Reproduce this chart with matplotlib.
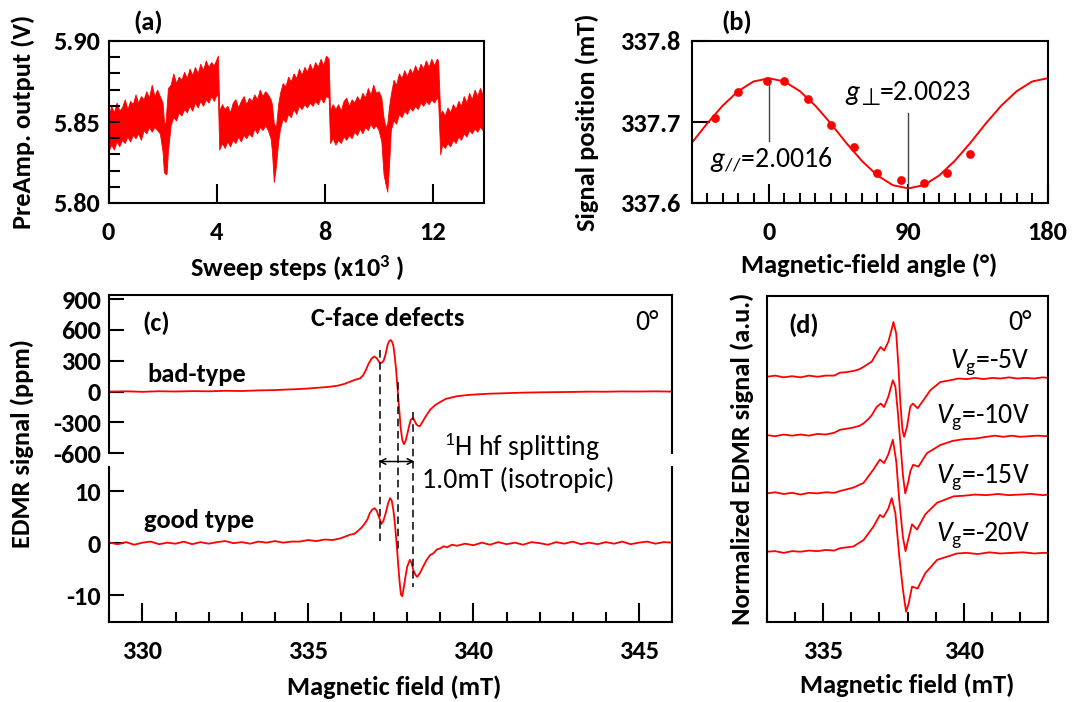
import matplotlib
matplotlib.use("Agg")
import matplotlib.pyplot as plt
import matplotlib.transforms as mtransforms
from matplotlib.lines import Line2D
from matplotlib.patches import FancyArrowPatch
from matplotlib.ticker import MultipleLocator, FormatStrFormatter

plt.rcParams["font.family"] = ["Carlito", "DejaVu Sans"]
plt.rcParams["font.weight"] = "bold"
plt.rcParams["mathtext.fontset"] = "custom"
plt.rcParams["mathtext.rm"] = "Carlito:weight=normal"
plt.rcParams["mathtext.it"] = "Carlito:style=italic:weight=normal"
plt.rcParams["mathtext.bf"] = "Carlito:weight=bold"
plt.rcParams["axes.linewidth"] = 1.5
plt.rcParams["axes.unicode_minus"] = False

# ---- (a) pre-amp output: upper / lower edge of the noisy trace
steps = [0.0, 0.1, 0.2, 0.3, 0.4, 0.5, 0.6, 0.7, 0.8, 0.9, 1.0, 1.1, 1.2, 1.3, 1.4, 1.5, 1.6, 1.7, 1.8, 1.9,
         2.0, 2.05, 2.1, 2.15, 2.2, 2.3, 2.4, 2.5, 2.6, 2.7, 2.8, 2.9, 3.0, 3.1, 3.2, 3.3, 3.4, 3.5, 3.6,
         3.7, 3.8, 3.9, 4.0, 4.05,
         4.1, 4.2, 4.3, 4.4, 4.5, 4.6, 4.7, 4.8, 4.9, 5.0, 5.1, 5.2, 5.3, 5.4, 5.5, 5.6, 5.7, 5.8, 5.9, 6.0,
         6.05, 6.12, 6.2, 6.28, 6.35, 6.45, 6.55, 6.65, 6.75, 6.85, 6.95, 7.05, 7.15, 7.25, 7.35, 7.45,
         7.55, 7.65, 7.75, 7.85, 7.95, 8.05, 8.15,
         8.2, 8.3, 8.4, 8.5, 8.6, 8.7, 8.8, 8.9, 9.0, 9.1, 9.2, 9.3, 9.4, 9.5, 9.6, 9.7, 9.8, 9.9, 10.0, 10.1,
         10.18, 10.25, 10.32, 10.38, 10.45, 10.55, 10.65, 10.75, 10.85, 10.95, 11.05, 11.15, 11.25, 11.35,
         11.45, 11.55, 11.65, 11.75, 11.85, 11.95, 12.05, 12.15, 12.2,
         12.28, 12.35, 12.45, 12.55, 12.65, 12.75, 12.85, 12.95, 13.05, 13.15, 13.25, 13.35, 13.45, 13.55,
         13.65, 13.75, 13.85, 13.9]
preamp_hi = [5.853, 5.860, 5.856, 5.862, 5.857, 5.859, 5.864, 5.858, 5.863, 5.861, 5.867, 5.862, 5.866, 5.864,
             5.869, 5.865, 5.873, 5.866, 5.870, 5.866,
             5.862, 5.851, 5.847, 5.859, 5.871, 5.873, 5.880, 5.874, 5.878, 5.876, 5.881, 5.877, 5.883, 5.879,
             5.884, 5.880, 5.886, 5.882, 5.888, 5.884, 5.887, 5.885, 5.889, 5.891,
             5.857, 5.861, 5.858, 5.860, 5.856, 5.862, 5.864, 5.859, 5.863, 5.866, 5.861, 5.865, 5.863, 5.867,
             5.864, 5.870, 5.866, 5.869, 5.867, 5.864,
             5.861, 5.849, 5.847, 5.861, 5.868, 5.874, 5.872, 5.878, 5.875, 5.880, 5.877, 5.883, 5.879, 5.884,
             5.881, 5.886, 5.882, 5.887, 5.884, 5.889, 5.885, 5.891, 5.889,
             5.857, 5.861, 5.858, 5.861, 5.857, 5.863, 5.865, 5.860, 5.864, 5.862, 5.866, 5.863, 5.868, 5.865,
             5.871, 5.867, 5.873, 5.868, 5.869, 5.865,
             5.853, 5.847, 5.849, 5.859, 5.867, 5.876, 5.873, 5.880, 5.877, 5.882, 5.878, 5.883, 5.880, 5.885,
             5.881, 5.886, 5.883, 5.888, 5.884, 5.889, 5.885, 5.889, 5.888,
             5.855, 5.857, 5.854, 5.859, 5.856, 5.861, 5.858, 5.863, 5.860, 5.866, 5.862, 5.868, 5.864, 5.870,
             5.866, 5.871, 5.867, 5.869]
preamp_lo = [5.832, 5.836, 5.833, 5.838, 5.835, 5.839, 5.837, 5.841, 5.838, 5.842, 5.840, 5.843, 5.839, 5.845,
             5.843, 5.847, 5.844, 5.847, 5.845, 5.843,
             5.832, 5.819, 5.818, 5.818, 5.832, 5.848, 5.853, 5.851, 5.856, 5.854, 5.858, 5.856, 5.860, 5.857,
             5.862, 5.859, 5.863, 5.860, 5.864, 5.862, 5.866, 5.863, 5.867, 5.866,
             5.833, 5.837, 5.834, 5.838, 5.835, 5.839, 5.837, 5.841, 5.838, 5.842, 5.840, 5.843, 5.841, 5.846,
             5.843, 5.847, 5.845, 5.848, 5.845, 5.840,
             5.832, 5.813, 5.823, 5.838, 5.846, 5.852, 5.850, 5.855, 5.853, 5.858, 5.855, 5.860, 5.858, 5.861,
             5.859, 5.862, 5.860, 5.863, 5.861, 5.865, 5.862, 5.866, 5.865,
             5.837, 5.840, 5.836, 5.839, 5.837, 5.841, 5.839, 5.842, 5.840, 5.844, 5.842, 5.846, 5.843, 5.847,
             5.845, 5.849, 5.846, 5.848, 5.845, 5.838,
             5.818, 5.812, 5.807, 5.822, 5.845, 5.851, 5.849, 5.855, 5.853, 5.857, 5.855, 5.859, 5.857, 5.860,
             5.858, 5.862, 5.860, 5.863, 5.861, 5.864, 5.862, 5.865, 5.864,
             5.830, 5.836, 5.834, 5.837, 5.835, 5.839, 5.837, 5.841, 5.839, 5.843, 5.841, 5.845, 5.843, 5.846,
             5.844, 5.847, 5.845, 5.846]

# ---- (b) signal position vs field angle
angle_pts = [-35, -20, -1, 10, 25, 40, 55, 70, 85, 100, 115, 130]
position_pts = [337.705, 337.737, 337.751, 337.751, 337.729, 337.696,
                337.669, 337.637, 337.628, 337.625, 337.637, 337.661]
fit_angle = [-50, -40, -30, -20, -10, 0, 10, 20, 30, 40, 50, 60, 70, 80, 90,
             100, 110, 120, 130, 140, 150, 160, 170, 180]
fit_position = [337.674, 337.698, 337.720, 337.738, 337.750, 337.754, 337.750, 337.738,
                337.720, 337.698, 337.674, 337.652, 337.634, 337.622, 337.618, 337.622,
                337.634, 337.652, 337.674, 337.698, 337.720, 337.738, 337.750, 337.754]

# ---- (c) C-face defects, bad-type (ppm)
bad_field = [329.0, 329.5, 330.0, 330.5, 331.0, 331.5, 332.0, 332.5, 333.0, 333.5, 334.0, 334.5,
             335.0, 335.3, 335.6, 335.9, 336.1, 336.3, 336.45, 336.57, 336.67, 336.75, 336.83,
             336.92, 337.0, 337.08, 337.17, 337.23, 337.29, 337.35, 337.40, 337.45, 337.50,
             337.54, 337.58, 337.62, 337.66, 337.70, 337.73, 337.77, 337.80, 337.85, 337.90,
             337.95, 338.0, 338.06, 338.11, 338.18, 338.23, 338.28, 338.33, 338.38, 338.45,
             338.53, 338.69, 338.85, 339.0, 339.17, 339.5, 339.85, 340.2, 340.5, 341.0, 341.5,
             342.0, 342.5, 343.0, 343.5, 344.0, 344.5, 345.0, 345.5, 346.0]
bad_signal = [0, 3, -2, 4, 1, 5, 3, 8, 6, 12, 15, 22,
              30, 38, 45, 58, 75, 100, 118, 128, 160, 210, 271,
              320, 342, 325, 278, 282, 303, 370, 447, 490, 502,
              485, 447, 350, 223, 60, -64, -220, -351, -470, -511,
              -480, -415, -330, -272, -256, -290, -320, -333, -335, -300,
              -256, -176, -130, -100, -70, -45, -32, -25, -20, -15, -10,
              -7, -5, -3, 0, -1, 2, 1, 3, 0]

# ---- (c) good type (ppm)
good_field = [329.0, 329.25, 329.5, 329.75, 330.0, 330.25, 330.5, 330.75, 331.0, 331.25, 331.5,
              331.75, 332.0, 332.25, 332.5, 332.75, 333.0, 333.25, 333.5, 333.75, 334.0, 334.25,
              334.5, 334.75, 335.0, 335.25, 335.5, 335.75, 335.96, 336.1, 336.26, 336.4, 336.52,
              336.62, 336.72, 336.8, 336.87, 336.95, 337.02, 337.08, 337.14, 337.22, 337.28,
              337.35, 337.42, 337.48, 337.53, 337.58, 337.62, 337.66, 337.70, 337.73, 337.77,
              337.81, 337.85, 337.90, 337.95, 338.0, 338.08, 338.13, 338.18, 338.24, 338.30,
              338.38, 338.48, 338.58, 338.69, 338.8, 338.9, 339.0, 339.1, 339.2, 339.35, 339.5,
              339.75, 340.0, 340.25, 340.5, 340.75, 341.0, 341.25, 341.5, 341.75, 342.0, 342.25,
              342.5, 342.75, 343.0, 343.25, 343.5, 343.75, 344.0, 344.25, 344.5, 344.75, 345.0,
              345.25, 345.5, 345.75, 346.0]
good_signal = [0.1, -0.2, 0.2, -0.3, 0.1, 0.3, -0.2, 0.1, -0.1, 0.3, -0.2,
               0.2, -0.1, 0.2, 0.4, 0.0, 0.2, -0.1, 0.3, 0.1, 0.4, 0.1,
               0.3, 0.3, 0.6, 0.4, 0.7, 0.6, 0.9, 1.2, 1.6, 1.8, 2.4,
               3.0, 3.8, 4.6, 5.8, 6.5, 6.7, 6.2, 5.1, 3.7, 4.3,
               5.8, 7.6, 8.65, 8.2, 6.4, 4.2, 1.3, -1.8, -4.5, -7.5,
               -9.9, -10.2, -8.3, -6.3, -4.5, -3.2, -3.8, -5.1, -6.0, -6.5,
               -5.8, -4.5, -3.3, -2.3, -1.9, -1.2, -1.0, -0.6, -0.8, -0.3, -0.5,
               -0.1, -0.4, 0.1, -0.3, 0.2, -0.2, 0.1, -0.3, 0.2, 0.0, -0.3,
               0.2, -0.1, 0.3, -0.2, 0.1, -0.2, 0.2, -0.1, 0.3, -0.2, 0.1,
               0.3, -0.1, 0.2, 0.1]

# ---- (d) normalized spectra at several gate voltages
gate_labels = ["-5V", "-10V", "-15V", "-20V"]
vg5_field = [333.0, 333.3, 333.6, 333.9, 334.2, 334.5, 334.8, 335.1, 335.4, 335.6, 335.85,
             336.08, 336.3, 336.44, 336.6, 336.73, 336.85, 336.95, 337.05, 337.17, 337.32,
             337.42, 337.50, 337.6, 337.68, 337.74, 337.82, 337.88, 337.98, 338.1, 338.19,
             338.36, 338.57, 338.81, 339.17, 339.52, 339.8, 340.1, 340.4, 340.7, 341.0,
             341.3, 341.6, 341.9, 342.2, 342.5, 342.8, 343.0]
vg5_signal = [0.00, 0.02, -0.01, 0.01, -0.01, 0.02, 0.00, 0.02, 0.02, 0.07, 0.08,
              0.10, 0.13, 0.17, 0.22, 0.26, 0.36, 0.44, 0.51, 0.45, 0.60,
              0.78, 0.94, 0.74, 0.17, -0.40, -0.91, -1.03, -0.86, -0.51, -0.46,
              -0.54, -0.40, -0.23, -0.09, -0.06, -0.03, -0.04, -0.02, -0.04, -0.02,
              -0.03, -0.01, -0.03, -0.02, -0.03, -0.01, -0.02]
vg10_field = [333.0, 333.3, 333.6, 333.9, 334.2, 334.5, 334.8, 335.1, 335.4, 335.6, 335.85,
              336.08, 336.3, 336.44, 336.6, 336.73, 336.9, 337.05, 337.17, 337.32, 337.48,
              337.57, 337.65, 337.74, 337.84, 337.92, 338.02, 338.1, 338.2, 338.39, 338.69,
              339.17, 339.6, 340.0, 340.4, 340.8, 341.1, 341.4, 341.7, 342.0, 342.3, 342.6,
              343.0]
vg10_signal = [0.00, -0.02, 0.01, -0.01, 0.01, -0.01, 0.02, 0.01, 0.04, 0.09, 0.11,
               0.13, 0.16, 0.20, 0.27, 0.34, 0.48, 0.54, 0.48, 0.66, 0.94,
               0.83, 0.43, -0.09, -0.70, -1.00, -0.82, -0.62, -0.51, -0.54, -0.31,
               -0.17, -0.10, -0.07, -0.06, -0.03, -0.01, -0.03, -0.01, -0.03, -0.02, -0.01,
               -0.02]
vg15_field = [333.0, 333.3, 333.6, 333.9, 334.2, 334.5, 334.8, 335.1, 335.4, 335.6,
              336.08, 336.44, 336.79, 337.02, 337.17, 337.32, 337.48, 337.6, 337.71, 337.84,
              337.93, 338.04, 338.16, 338.34, 338.63, 339.05, 339.64, 340.0, 340.4, 340.8,
              341.2, 341.6, 342.0, 342.4, 342.8, 343.0]
vg15_signal = [0.00, 0.02, -0.01, 0.01, -0.02, 0.01, 0.00, 0.02, 0.01, 0.04,
               0.10, 0.18, 0.41, 0.58, 0.52, 0.67, 0.92, 0.55, -0.13, -0.76,
               -0.99, -0.76, -0.53, -0.62, -0.36, -0.16, -0.05, -0.04, -0.02, -0.03,
               -0.01, -0.03, -0.02, -0.01, -0.03, -0.02]
vg20_field = [333.0, 333.3, 333.6, 333.9, 334.2, 334.5, 334.8, 335.1, 335.4, 335.6,
              336.08, 336.44, 336.79, 337.02, 337.14, 337.32, 337.44, 337.57, 337.71, 337.84,
              337.95, 338.04, 338.16, 338.36, 338.63, 339.05, 339.76, 340.1, 340.5, 340.9,
              341.3, 341.7, 342.1, 342.5, 342.8, 343.0]
vg20_signal = [0.00, 0.01, -0.02, 0.01, 0.00, 0.02, 0.01, 0.03, 0.02, 0.06,
               0.09, 0.20, 0.43, 0.63, 0.59, 0.74, 0.92, 0.66, -0.09, -0.66,
               -1.03, -0.89, -0.60, -0.63, -0.37, -0.14, -0.03, -0.02, -0.04, -0.01,
               -0.03, -0.02, -0.01, -0.03, -0.02, -0.02]

W, H = 1075, 702
RED = "#ff0000"
LAB = 19   # bold labels / tick labels
ANN = 20   # plain annotations
fig = plt.figure(figsize=(W / 100, H / 100), dpi=100)


def box(left, top, right, bottom):
    return [left / W, 1 - bottom / H, (right - left) / W, (bottom - top) / H]


def ftext(px, py, s, **kw):
    kw.setdefault("ha", "center")
    kw.setdefault("va", "center")
    fig.text(px / W, 1 - py / H, s, **kw)


def style_ticks(ax):
    ax.tick_params(which="both", direction="in", width=1.5, labelsize=LAB,
                   top=False, right=False)
    ax.tick_params(axis="x", which="major", length=14, pad=13)
    ax.tick_params(axis="x", which="minor", length=7)
    ax.tick_params(axis="y", which="both", pad=6)


# (a)
ax_a = fig.add_axes(box(108.5, 41, 484, 203))
ax_a.fill_between(steps, preamp_lo, preamp_hi, color=RED, lw=0.6)
ax_a.set_xlim(0, 13.9)
ax_a.set_ylim(5.80, 5.90)
ax_a.set_xticks([0, 4, 8, 12])
ax_a.set_yticks([5.80, 5.85, 5.90])
ax_a.yaxis.set_minor_locator(MultipleLocator(0.01))
ax_a.yaxis.set_major_formatter(FormatStrFormatter("%.2f"))
style_ticks(ax_a)
ax_a.tick_params(axis="y", which="both", length=8)
ftext(148, 22, "(a)", fontsize=LAB)
ftext(297, 268, r"Sweep steps (x10$^{\mathbf{3}}$ )", fontsize=LAB)
ftext(23, 122, "PreAmp. output (V)", fontsize=LAB, rotation=90)

# (b)
ax_b = fig.add_axes(box(691.6, 41, 1047.6, 203))
ax_b.plot(fit_angle, fit_position, color=RED, lw=1.4)
ax_b.plot(angle_pts, position_pts, "o", color=RED, ms=6.3, mec="none")
ax_b.plot([0, 0], [337.752, 337.676], color="#444444", lw=1)
ax_b.plot([90, 90], [337.711, 337.618], color="#444444", lw=1)
ax_b.set_xlim(-50, 180)
ax_b.set_ylim(337.6, 337.8)
ax_b.set_xticks([0, 90, 180])
ax_b.xaxis.set_minor_locator(MultipleLocator(10))
ax_b.set_yticks([337.6, 337.7, 337.8])
ax_b.yaxis.set_major_formatter(FormatStrFormatter("%.1f"))
style_ticks(ax_b)
ax_b.tick_params(axis="y", length=13, pad=8)
ftext(710, 167, r"$g_{//}$=2.0016", fontsize=ANN, fontweight="normal", ha="left", va="baseline")
ftext(845, 100, "g", fontsize=ANN, fontweight="normal", fontstyle="italic", ha="left", va="baseline")
ftext(861, 105, "⊥", fontsize=ANN - 3, fontweight="normal", ha="left", va="baseline")
ftext(880, 100, "=2.0023", fontsize=ANN, fontweight="normal", ha="left", va="baseline")
ftext(737, 22, "(b)", fontsize=LAB)
ftext(869, 265, "Magnetic-field angle (°)", fontsize=LAB)
ftext(587, 122, "Signal position (mT)", fontsize=LAB, rotation=90)

# (c) top: bad-type
ax_c1 = fig.add_axes(box(109.4, 295, 672, 453.3))
ax_c1.plot(bad_field, bad_signal, color=RED, lw=1.3)
ax_c1.set_xlim(329, 346)
ax_c1.set_ylim(-600, 940)
ax_c1.set_yticks([-600, -300, 0, 300, 600, 900])
ax_c1.spines["bottom"].set_visible(False)
style_ticks(ax_c1)
ax_c1.tick_params(axis="y", length=11)
ax_c1.tick_params(axis="x", which="both", bottom=False, labelbottom=False)

# (c) bottom: good type
ax_c2 = fig.add_axes(box(109.4, 466.7, 672, 621.7))
ax_c2.plot(good_field, good_signal, color=RED, lw=1.3)
ax_c2.set_xlim(329, 346)
ax_c2.set_ylim(-15.1, 14.7)
ax_c2.set_yticks([-10, 0, 10])
ax_c2.set_xticks([330, 335, 340, 345])
ax_c2.xaxis.set_minor_locator(MultipleLocator(1))
ax_c2.spines["top"].set_visible(False)
style_ticks(ax_c2)
ax_c2.tick_params(axis="y", length=11)

# hyperfine markers crossing both panels
trans_c = mtransforms.blended_transform_factory(ax_c2.transData, fig.transFigure)
for xf, py0, py1 in [(337.17, 350, 541.7), (337.73, 381.7, 549), (338.18, 411.7, 586.7)]:
    fig.add_artist(Line2D([xf, xf], [1 - py0 / H, 1 - py1 / H], transform=trans_c,
                          color="black", lw=1.1, linestyle=(0, (5, 3))))
fig.add_artist(FancyArrowPatch(
    (337.05, 1 - 461.5 / H), (338.3, 1 - 461.5 / H), transform=trans_c,
    arrowstyle="<->", mutation_scale=10, color="black", lw=1.1))

ftext(156, 323, "(c)", fontsize=LAB)
ftext(388, 319, "C-face defects", fontsize=LAB)
ftext(647, 322, "0°", fontsize=ANN, fontweight="normal")
ftext(147, 375, "bad-type", fontsize=LAB, ha="left")
ftext(144, 520, "good type", fontsize=LAB, ha="left")
ftext(444, 447, r"$^{1}$H hf splitting", fontsize=ANN, fontweight="normal", ha="left")
ftext(422, 480, "1.0mT (isotropic)", fontsize=ANN, fontweight="normal", ha="left")
ftext(22, 443, "EDMR signal (ppm)", fontsize=LAB, rotation=90)
ftext(394, 687, "Magnetic field (mT)", fontsize=LAB)

# (d)
ax_d = fig.add_axes(box(766.7, 295.7, 1048.3, 621.7))
traces = [(vg5_field, vg5_signal), (vg10_field, vg10_signal),
          (vg15_field, vg15_signal), (vg20_field, vg20_signal)]
label_y = [362, 417, 477, 535]
for i, (xf, yv) in enumerate(traces):
    ax_d.plot(xf, [v - i for v in yv], color=RED, lw=1.3)
    ftext(1030, label_y[i], r"$V_{\mathrm{g}}$=" + gate_labels[i], fontsize=ANN,
          fontweight="normal", ha="right")
ax_d.set_xlim(333, 343)
ax_d.set_ylim(-4.20, 1.39)
ax_d.set_xticks([335, 340])
ax_d.xaxis.set_minor_locator(MultipleLocator(1))
style_ticks(ax_d)
ax_d.tick_params(axis="y", which="both", left=False, labelleft=False)
ftext(804, 325, "(d)", fontsize=LAB)
ftext(1020, 322, "0°", fontsize=ANN, fontweight="normal")
ftext(742, 459, "Normalized EDMR signal (a.u.)", fontsize=LAB, rotation=90)
ftext(907, 685, "Magnetic field (mT)", fontsize=LAB)

fig.savefig("out.png", dpi=100)
